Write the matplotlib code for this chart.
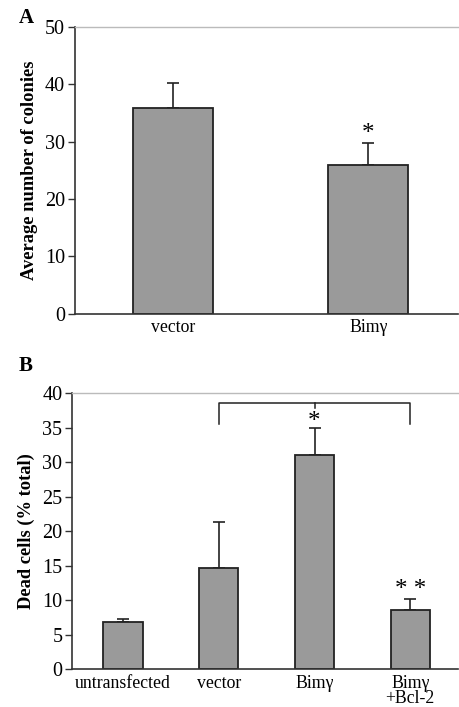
import matplotlib
matplotlib.use("Agg")
import matplotlib.pyplot as plt
import numpy as np

plt.rcParams['font.family'] = ['Liberation Serif', 'DejaVu Serif']

# Panel A data
a_categories = ["vector", "Bimγ"]
a_values = [35.8, 26.0]
a_errors = [4.4, 3.8]
a_yticks = [0, 10, 20, 30, 40, 50]

# Panel B data
b_categories = ["untransfected", "vector", "Bimγ", "Bimγ\n+Bcl-2"]
b_values = [6.8, 14.6, 31.0, 8.6]
b_errors = [0.4, 6.8, 4.0, 1.5]
b_yticks = [0, 5, 10, 15, 20, 25, 30, 35, 40]

bar_color = "#9a9a9a"
fig = plt.figure(figsize=(4.59, 7.07), dpi=100)

def style(ax, ymax, yticks):
    ax.set_ylim(0, ymax)
    ax.set_yticks(yticks)
    ax.tick_params(axis='y', direction='out', length=5, width=1, labelsize=14.5, pad=2, color='#333333')
    ax.tick_params(axis='x', length=0, labelsize=12.8, pad=4)
    ax.spines['right'].set_visible(False)
    ax.spines['top'].set_color('#bbbbbb')
    ax.spines['top'].set_linewidth(1)
    ax.spines['left'].set_color('#333333')
    ax.spines['bottom'].set_color('#333333')
    ax.spines['left'].set_linewidth(1.2)
    ax.spines['bottom'].set_linewidth(1.2)

# Panel A
axA = fig.add_axes([0.163, 0.556, 0.835, 0.406])
xa = np.arange(len(a_categories))
axA.bar(xa, a_values, width=0.41, color=bar_color, edgecolor='#222222', linewidth=1.3, zorder=2)
axA.errorbar(xa, a_values, yerr=[np.zeros(len(a_values)), a_errors], fmt='none',
             ecolor='#222222', elinewidth=1.2, capsize=4, capthick=1.2, zorder=1)
axA.set_xlim(-0.503, 1.46)
axA.set_xticks(xa)
axA.set_xticklabels(a_categories)
style(axA, 50, a_yticks)
axA.set_ylabel("Average number of colonies", fontsize=13.3, fontweight='bold', labelpad=5)
axA.text(1, 31.3, "*", ha='center', va='center', fontsize=18)
fig.text(0.04, 0.974, "A", fontsize=15, fontweight='bold', ha='left', va='center')

# Panel B
axB = fig.add_axes([0.157, 0.0537, 0.841, 0.390])
xb = np.arange(len(b_categories))
axB.bar(xb, b_values, width=0.41, color=bar_color, edgecolor='#222222', linewidth=1.3, zorder=2)
axB.errorbar(xb, b_values, yerr=[np.zeros(len(b_values)), b_errors], fmt='none',
             ecolor='#222222', elinewidth=1.2, capsize=4, capthick=1.2, zorder=1)
axB.set_xlim(-0.533, 3.5)
axB.set_xticks(xb)
axB.set_xticklabels(b_categories, va='top', linespacing=0.85)
style(axB, 40, b_yticks)
axB.set_ylabel("Dead cells (% total)", fontsize=13.3, fontweight='bold', labelpad=5)
# bracket
axB.plot([1, 1, 3, 3], [35.6, 38.6, 38.6, 35.6], color='#222222', lw=1.1, clip_on=False)
axB.plot([2, 2], [38.6, 37.9], color='#222222', lw=1.1)
axB.text(2, 35.9, "*", ha='center', va='center', fontsize=18)
axB.text(3, 11.4, "* *", ha='center', va='center', fontsize=18)
fig.text(0.04, 0.483, "B", fontsize=15, fontweight='bold', ha='left', va='center')

fig.savefig("out.png", dpi=100)
